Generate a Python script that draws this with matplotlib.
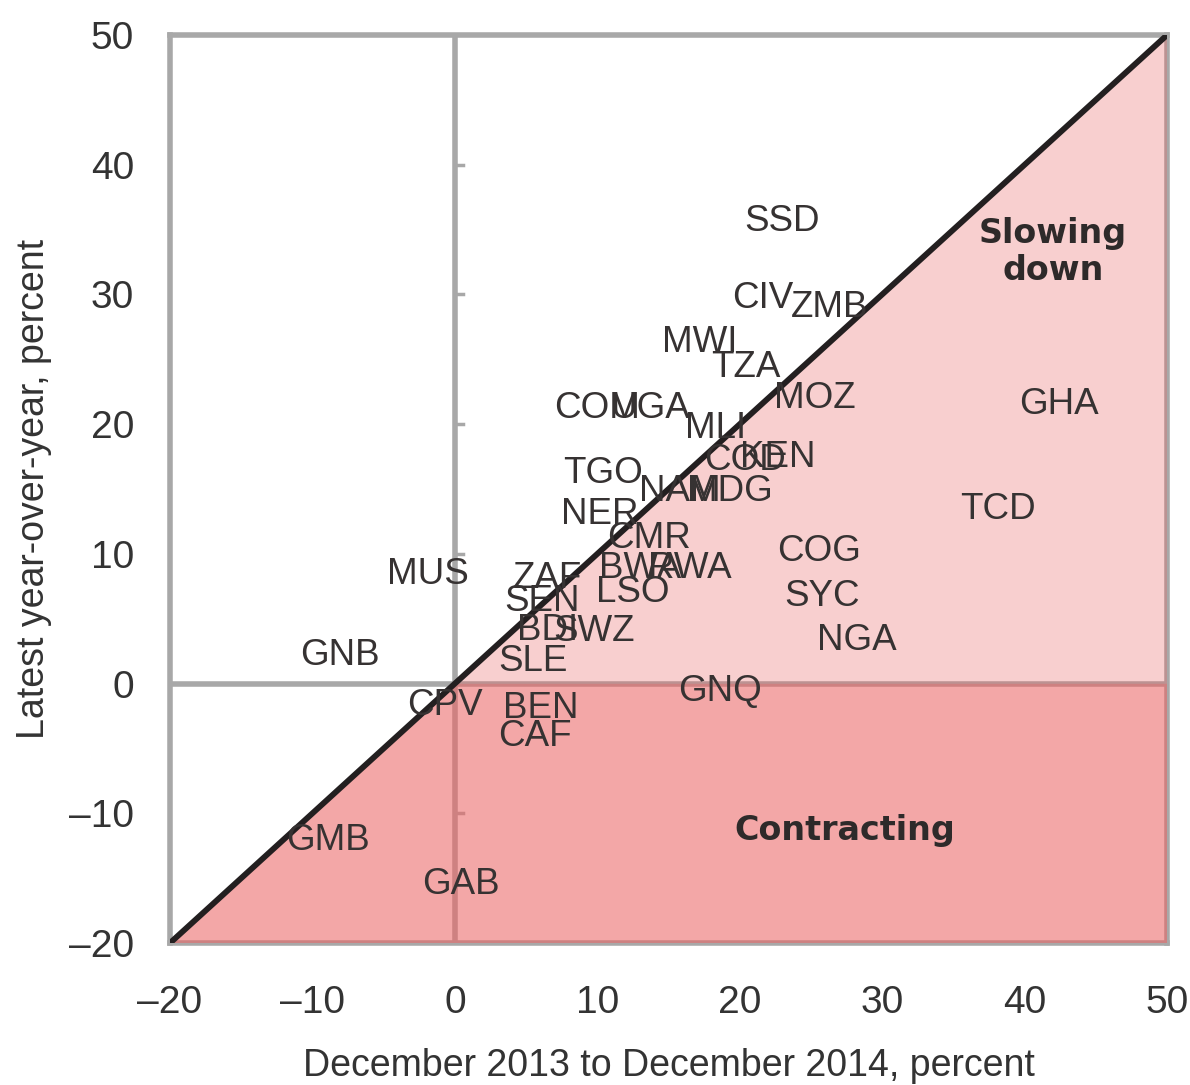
import matplotlib
matplotlib.use("Agg")
import matplotlib.pyplot as plt
from matplotlib import font_manager

# country codes and their (x, y) positions
codes = ["SSD", "CIV", "ZMB", "MWI", "TZA", "MOZ", "COM", "UGA", "MLI", "COD",
         "KEN", "TGO", "NAM", "MDG", "NER", "CMR", "BWA", "RWA", "COG", "SYC",
         "TCD", "GHA", "NGA", "MUS", "ZAF", "SEN", "LSO", "BDI", "SWZ", "SLE",
         "GNB", "CPV", "BEN", "CAF", "GNQ", "GMB", "GAB"]
x_2014 = [23.0, 21.6, 26.3, 17.2, 20.4, 25.3, 10.0, 13.7, 18.3, 20.4,
          22.7, 10.4, 15.8, 19.3, 10.2, 13.6, 13.0, 16.5, 25.6, 25.8,
          38.1, 42.4, 28.2, -1.9, 6.5, 6.1, 12.5, 6.5, 9.8, 5.5,
          -8.1, -0.7, 6.0, 5.6, 18.6, -8.9, 0.4]
y_latest = [35.6, 29.7, 29.0, 26.3, 24.4, 22.0, 21.2, 21.2, 19.7, 17.2,
            17.4, 16.2, 14.8, 14.8, 13.0, 11.2, 8.9, 8.9, 10.2, 6.7,
            13.4, 21.5, 3.3, 8.4, 8.1, 6.3, 7.0, 4.1, 4.0, 1.7,
            2.2, -1.7, -1.9, -4.1, -0.6, -12.1, -15.5]

ticks = [-20, -10, 0, 10, 20, 30, 40, 50]
tick_labels = ["\u201320", "\u201310", "0", "10", "20", "30", "40", "50"]

names = {f.name for f in font_manager.fontManager.ttflist}
narrow = "Liberation Sans Narrow" if "Liberation Sans Narrow" in names else "Liberation Sans"

GRAY = "#A8A8A8"
RED = (235 / 255, 100 / 255, 100 / 255)

fig = plt.figure(figsize=(11.9, 10.85), dpi=100)
ax = fig.add_axes([0.1429, 0.1309, 0.8378, 0.8368])
ax.set_xlim(-20, 50)
ax.set_ylim(-20, 50)

for s in ax.spines.values():
    s.set_color(GRAY)
    s.set_linewidth(4.0)
    s.set_zorder(1)

# quadrant lines
ax.plot([0, 0], [-20, 50], color=GRAY, lw=4.0, zorder=1, solid_capstyle="butt")
ax.plot([-20, 50], [0, 0], color=GRAY, lw=4.0, zorder=1, solid_capstyle="butt")
for t in [-10, 10, 20, 30, 40]:
    ax.plot([0, 0.6], [t, t], color=GRAY, lw=2.5, zorder=1)

# shaded regions
ax.fill([0, 50, 50], [0, 50, 0], color=RED, alpha=0.31, lw=0, zorder=2)
ax.fill([-20, 0, 50, 50], [-20, 0, 0, -20], color=RED, alpha=0.57, lw=0, zorder=2)

# 45-degree line
ax.plot([-20, 50], [-20, 50], color="#231F20", lw=4.2, zorder=3)

for c, x, y in zip(codes, x_2014, y_latest):
    ax.text(x, y, c, ha="center", va="center", fontsize=26.5, color="#363232",
            family="Liberation Sans", zorder=4)

ax.text(42.0, 33.3, "Slowing\ndown", ha="center", va="center", fontsize=24,
        fontweight="bold", color="#2E2A2A", family="DejaVu Sans", linespacing=1.15, zorder=4)
ax.text(27.4, -11.3, "Contracting", ha="center", va="center", fontsize=24,
        fontweight="bold", color="#2E2A2A", family="DejaVu Sans", zorder=4)

ax.set_xticks(ticks)
ax.set_xticklabels(tick_labels)
ax.set_yticks(ticks)
ax.set_yticklabels(tick_labels)
ax.tick_params(length=0, labelsize=28, labelcolor="#333333")
ax.tick_params(axis="x", pad=30)
ax.tick_params(axis="y", pad=26)
for lab in ax.get_xticklabels() + ax.get_yticklabels():
    lab.set_family(narrow)

ax.set_xlabel("December 2013 to December 2014, percent", fontsize=27,
              family=narrow, color="#333333", labelpad=20)
ax.set_ylabel("Latest year-over-year, percent", fontsize=27,
              family=narrow, color="#333333", labelpad=12)

fig.savefig("out.png", dpi=100)
